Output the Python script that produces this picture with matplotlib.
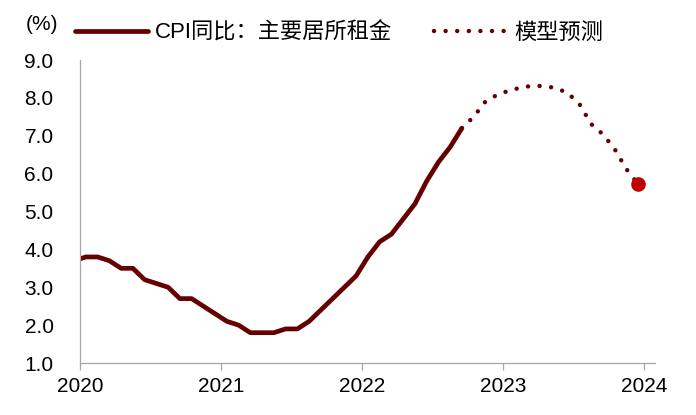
import matplotlib
matplotlib.use("Agg")
import matplotlib.pyplot as plt
from matplotlib.lines import Line2D
import numpy as np

plt.rcParams['font.family'] = ['Liberation Sans', 'Noto Sans CJK SC', 'DejaVu Sans']

# monthly values, Dec 2019 .. Sep 2022 (actual)
actual = [3.7,
          3.8, 3.8, 3.7, 3.5, 3.5, 3.2, 3.1, 3.0, 2.7, 2.7, 2.5, 2.3,
          2.1, 2.0, 1.8, 1.8, 1.8, 1.9, 1.9, 2.1, 2.4, 2.7, 3.0, 3.3,
          3.8, 4.2, 4.4, 4.8, 5.2, 5.8, 6.3, 6.7, 7.2]
# model forecast, Sep 2022 .. Dec 2023
forecast = [7.2, 7.5, 7.9, 8.08, 8.19, 8.27, 8.32, 8.31, 8.26, 8.13,
            7.84, 7.31, 7.04, 6.65, 6.12, 5.72]
years = [2020, 2021, 2022, 2023, 2024]
yticks = [1.0, 2.0, 3.0, 4.0, 5.0, 6.0, 7.0, 8.0, 9.0]

line_color = '#660000'
dot_style = (0, (0.01, 2.6))
x_act = 2019 + (11.5 + np.arange(len(actual))) / 12
x_fc = 2022 + (8.5 + np.arange(len(forecast))) / 12

fig = plt.figure(figsize=(6.96, 4.15), dpi=100)
ax = fig.add_axes([80/696, 52/415, 575/696, 303/415])

ax.plot(x_act, actual, color=line_color, lw=3.4, solid_capstyle='round',
        solid_joinstyle='round')
ax.plot(x_fc, forecast, color=line_color, lw=3.2, linestyle=dot_style,
        dash_capstyle='round')
ax.plot(x_fc[-1], forecast[-1], 'o', color='#C00000', ms=9.5, zorder=5)

ax.set_xlim(2020, 2020 + 575/141)
ax.set_ylim(1.0, 9.0)
ax.set_xticks(years)
ax.set_xticklabels([str(y) for y in years])
ax.set_yticks(yticks)
ax.set_yticklabels(['%.1f' % v for v in yticks])

for s in ['top', 'right']:
    ax.spines[s].set_visible(False)
for s in ['left', 'bottom']:
    ax.spines[s].set_color('#A6A6A6')
    ax.spines[s].set_linewidth(0.9)

ax.tick_params(axis='y', length=0, pad=19, labelsize=15)
ax.tick_params(axis='x', length=5, width=0.9, color='#A6A6A6', pad=5, labelsize=15)

fig.text(42/696, 1 - 24/415, '(%)', ha='center', va='center', fontsize=15)

handles = [Line2D([], [], color=line_color, lw=3.4, solid_capstyle='round'),
           Line2D([], [], color=line_color, lw=3.2, linestyle=dot_style,
                  dash_capstyle='round')]
ax.legend(handles, ['CPI同比：主要居所租金', '模型预测'], ncol=2, frameon=False,
          loc='center left', bbox_to_anchor=(75/696, 1 - 33/415),
          bbox_transform=fig.transFigure, borderaxespad=0, borderpad=0,
          handlelength=3.3, handletextpad=0.3, columnspacing=1.9,
          prop={'size': 16})

fig.savefig('out.png', dpi=100)
